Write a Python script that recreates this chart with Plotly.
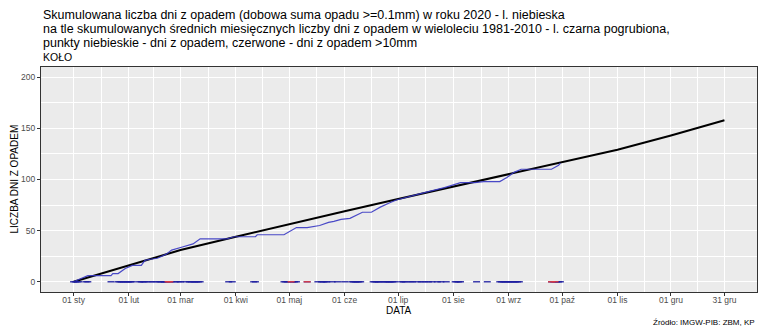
import plotly.graph_objects as go
import pandas as pd

# Long-term (1981-2010) cumulative mean number of precipitation days
clim_dates = ["2020-01-01", "2020-02-01", "2020-03-01", "2020-04-01", "2020-05-01",
              "2020-06-01", "2020-07-01", "2020-08-01", "2020-09-01", "2020-10-01",
              "2020-11-01", "2020-12-01", "2020-12-31"]
clim_values = [0, 16, 31, 44, 56.5, 69, 81, 93, 105, 117, 129, 143, 158]

# 2020 cumulative number of precipitation days
obs_dates = ["2020-01-01", "2020-01-09", "2020-01-13", "2020-01-22", "2020-01-23",
             "2020-01-26", "2020-01-30", "2020-02-03", "2020-02-08", "2020-02-10",
             "2020-02-13", "2020-02-17", "2020-02-22", "2020-02-25", "2020-03-02",
             "2020-03-07", "2020-03-08", "2020-03-12", "2020-03-27", "2020-03-31",
             "2020-04-12", "2020-04-13", "2020-04-28", "2020-05-05", "2020-05-11",
             "2020-05-18", "2020-05-23", "2020-05-26", "2020-05-30", "2020-06-04",
             "2020-06-11", "2020-06-16", "2020-06-21", "2020-06-26", "2020-06-30",
             "2020-07-13", "2020-07-27", "2020-08-05", "2020-08-13", "2020-08-18",
             "2020-08-27", "2020-08-31", "2020-09-04", "2020-09-08", "2020-09-25",
             "2020-09-29", "2020-09-30"]
obs_values = [0, 6, 6, 6, 8,
              8, 13, 16, 16, 21,
              22, 23, 27, 31, 34,
              36, 37, 42, 42, 44,
              44, 46, 46, 53, 53,
              55, 58, 59, 61, 62,
              68, 68, 73, 77, 80,
              86, 92, 97, 97, 98,
              98, 102, 107, 110, 110,
              114, 116]

# Days with precipitation (day of year, 2020) and days with precipitation > 10 mm
wet_doy = [1, 2, 3, 4, 8, 9, 22, 26, 27, 28, 29, 30, 31, 32, 33, 34, 38, 39, 40, 41,
           43, 45, 47, 49, 50, 51, 52, 53, 54, 55, 56, 58, 60, 61, 64, 66, 67, 68, 69,
           70, 71, 72, 88, 90, 102, 103, 119, 120, 121, 123, 124, 125, 126, 132, 138,
           140, 141, 142, 143, 146, 149, 153, 157, 158, 159, 160, 161, 162, 169, 170,
           171, 172, 173, 175, 176, 177, 178, 179, 180, 181, 185, 186, 187, 190, 191,
           194, 196, 198, 200, 202, 205, 207, 210, 215, 216, 217, 218, 227, 233, 240,
           241, 242, 243, 244, 245, 246, 247, 248, 249, 250, 251, 269, 270, 271, 272,
           273, 274]
heavy_doy = [54, 55, 123, 132, 269, 271]

tick_dates = ["2020-01-01", "2020-02-01", "2020-03-01", "2020-04-01", "2020-05-01",
              "2020-06-01", "2020-07-01", "2020-08-01", "2020-09-01", "2020-10-01",
              "2020-11-01", "2020-12-01", "2020-12-31"]
tick_labels = ["01 sty", "01 lut", "01 mar", "01 kwi", "01 maj", "01 cze", "01 lip",
               "01 sie", "01 wrz", "01 paź", "01 lis", "01 gru", "31 gru"]
minor_dates = ["2020-01-16 12:00", "2020-02-15", "2020-03-16 12:00", "2020-04-16",
               "2020-05-16 12:00", "2020-06-16", "2020-07-16 12:00", "2020-08-16 12:00",
               "2020-09-16", "2020-10-16 12:00", "2020-11-16", "2020-12-16"]
y_ticks = [0, 50, 100, 150, 200]
y_minor = [25, 75, 125, 175]

base = pd.Timestamp("2019-12-31")
wet_dates = [base + pd.Timedelta(days=d) for d in wet_doy]
heavy_dates = [base + pd.Timedelta(days=d) for d in heavy_doy]

fig = go.Figure()
fig.add_trace(go.Scatter(x=clim_dates, y=clim_values, mode="lines",
                         line=dict(color="black", width=2), showlegend=False))
fig.add_trace(go.Scatter(x=obs_dates, y=obs_values, mode="lines",
                         line=dict(color="rgba(55,55,195,0.9)", width=1.2), showlegend=False))
fig.add_trace(go.Scatter(x=wet_dates, y=[0] * len(wet_dates), mode="markers",
                         marker=dict(symbol="line-ew", size=5,
                                     line=dict(color="rgba(30,30,160,0.85)", width=1.5)),
                         showlegend=False))
fig.add_trace(go.Scatter(x=heavy_dates, y=[0] * len(heavy_dates), mode="markers",
                         marker=dict(symbol="line-ew", size=5,
                                     line=dict(color="rgba(220,60,70,0.9)", width=1.5)),
                         showlegend=False))

W, H = 760, 329
ml, mr, mt, mb = 41, 3, 67, 37
ph = H - mt - mb


def ypix(y):
    return (H - mb - y) / ph


title_lines = [
    "Skumulowana liczba dni z opadem (dobowa suma opadu >=0.1mm) w roku 2020 - l. niebieska",
    "na tle skumulowanych średnich miesięcznych liczby dni z opadem w wieloleciu 1981-2010 - l. czarna pogrubiona,",
    "punkty niebieskie - dni z opadem, czerwone - dni z opadem >10mm",
]
ann = []
for i, t in enumerate(title_lines):
    ann.append(dict(text=t, xref="paper", yref="paper", x=0, y=ypix(15 + 14 * i),
                    xanchor="left", yanchor="middle", showarrow=False,
                    font=dict(size=12.5, color="black")))
ann.append(dict(text="KOŁO", xref="paper", yref="paper", x=0, y=ypix(57),
                xanchor="left", yanchor="middle", showarrow=False,
                font=dict(size=10.5, color="black")))
ann.append(dict(text="LICZBA DNI Z OPADEM", xref="paper", yref="paper",
                x=(14 - ml) / (W - ml - mr), y=0.5, textangle=-90,
                xanchor="center", yanchor="middle", showarrow=False,
                font=dict(size=10, color="black")))
ann.append(dict(text="DATA", xref="paper", yref="paper", x=0.5, y=ypix(310),
                xanchor="center", yanchor="middle", showarrow=False,
                font=dict(size=10, color="black")))
ann.append(dict(text="Źródło: IMGW-PIB: ZBM, KP", xref="paper", yref="paper",
                x=1, y=ypix(322), xanchor="right", yanchor="middle", showarrow=False,
                font=dict(size=8, color="black")))

fig.update_layout(
    width=W, height=H,
    margin=dict(l=ml, r=mr, t=mt, b=mb, autoexpand=False),
    paper_bgcolor="white", plot_bgcolor="#EBEBEB",
    font=dict(family="Liberation Sans, Arial, sans-serif"),
    annotations=ann,
    xaxis=dict(type="date", range=["2019-12-13 18:00", "2021-01-18 06:00"],
               tickvals=tick_dates, ticktext=tick_labels,
               tickfont=dict(size=8.5, color="#4D4D4D"),
               ticks="outside", ticklen=3, tickcolor="#333333",
               ticklabelstandoff=-3,
               showgrid=True, gridcolor="white", gridwidth=1.1,
               minor=dict(tickvals=minor_dates, showgrid=True, gridcolor="white",
                          gridwidth=0.5, ticks=""),
               showline=True, linecolor="#333333", linewidth=1, mirror=True,
               zeroline=False),
    yaxis=dict(range=[-10, 210], tickvals=y_ticks,
               tickfont=dict(size=8.5, color="#4D4D4D"),
               ticks="outside", ticklen=3, tickcolor="#333333",
               showgrid=True, gridcolor="white", gridwidth=1.1,
               minor=dict(tickvals=y_minor, showgrid=True, gridcolor="white",
                          gridwidth=0.5, ticks=""),
               showline=True, linecolor="#333333", linewidth=1, mirror=True,
               zeroline=False),
)

fig.write_html("out.html", config={"displayModeBar": False},
               post_script="document.body.style.margin='0';document.body.style.overflow='hidden';")
